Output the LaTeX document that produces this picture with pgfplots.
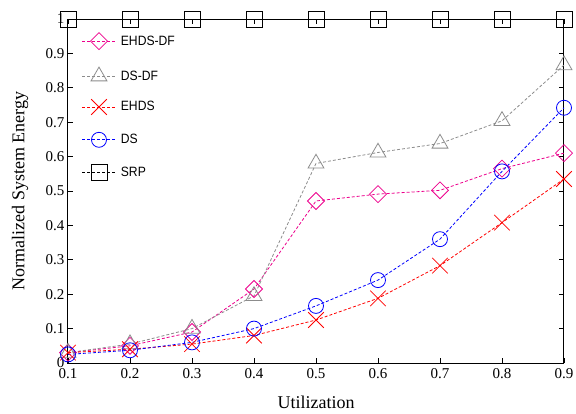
\documentclass[border=0pt]{standalone}
\usepackage{pgfplots}
\pgfplotsset{compat=1.18}
\usepackage{fontspec}
\setmainfont{Liberation Serif}
\newfontfamily\legfont[FakeStretch=0.9]{Liberation Sans}
\definecolor{mygray}{rgb}{0.55,0.55,0.55}
\begin{document}
\begin{tikzpicture}
\begin{axis}[
  scale only axis, width=496pt, height=344pt,
  xmin=0.1, xmax=0.9, ymin=0, ymax=1,
  clip=false,
  xtick={0.1,0.2,0.3,0.4,0.5,0.6,0.7,0.8,0.9},
  ytick={0,0.1,0.2,0.3,0.4,0.5,0.6,0.7,0.8,0.9,1},
  xticklabels={0.1,0.2,0.3,0.4,0.5,0.6,0.7,0.8,0.9},
  yticklabels={0,0.1,0.2,0.3,0.4,0.5,0.6,0.7,0.8,0.9,1},
  tick align=inside, major tick length=5pt,
  tick style={line width=0.8pt, black},
  axis line style={line width=1pt},
  tick label style={font=\fontsize{15}{17}\selectfont},
  xticklabel style={yshift=-1.5pt},
  label style={font=\fontsize{18}{20}\selectfont},
  xlabel=Utilization, ylabel=Normalized System Energy,
  xlabel style={at={(axis description cs:0.5,-0.113)},anchor=center},
  ylabel style={at={(axis description cs:-0.0968,0.5)},anchor=center},
  every axis plot/.append style={line width=0.8pt, dash pattern=on 3pt off 2pt},
  legend image code/.code={\draw[mark repeat=2,mark phase=2,#1] plot coordinates {(0pt,0pt) (16.5pt,0pt) (33pt,0pt)};},
  legend cell align=left,
  legend style={at={(axis description cs:0.028,0.961)}, anchor=north west, draw=none, fill=none,
    inner sep=0pt, row sep=17.5pt,
    font=\legfont\fontsize{13.5}{15}\selectfont,
    nodes={inner xsep=5pt, inner ysep=0pt}},
]
\addplot[magenta, mark=square, mark size=6pt, mark options={solid, rotate=45}] coordinates {
(0.1,0.030) (0.2,0.050) (0.3,0.090) (0.4,0.215) (0.5,0.471) (0.6,0.491) (0.7,0.502) (0.8,0.565) (0.9,0.610)};
\addlegendentry{EHDS-DF}
\addplot[mygray, mark=triangle, mark size=9.2pt, mark options={solid}] coordinates {
(0.1,0.030) (0.2,0.055) (0.3,0.100) (0.4,0.195) (0.5,0.580) (0.6,0.612) (0.7,0.638) (0.8,0.704) (0.9,0.866)};
\addlegendentry{DS-DF}
\addplot[red, mark=x, mark size=11pt, mark options={solid}] coordinates {
(0.1,0.030) (0.2,0.040) (0.3,0.055) (0.4,0.080) (0.5,0.125) (0.6,0.188) (0.7,0.283) (0.8,0.408) (0.9,0.535)};
\addlegendentry{EHDS}
\addplot[blue, mark=o, mark size=7.5pt, mark options={solid}] coordinates {
(0.1,0.025) (0.2,0.037) (0.3,0.060) (0.4,0.100) (0.5,0.166) (0.6,0.241) (0.7,0.360) (0.8,0.557) (0.9,0.742)};
\addlegendentry{DS}
\addplot[black, mark=square, mark size=8pt, mark options={solid}] coordinates {
(0.1,1) (0.2,1) (0.3,1) (0.4,1) (0.5,1) (0.6,1) (0.7,1) (0.8,1) (0.9,1)};
\addlegendentry{SRP}
\end{axis}
\pgfresetboundingbox
\path[use as bounding box] (-68pt,-50pt) rectangle (508pt,363pt);
\end{tikzpicture}
\end{document}
